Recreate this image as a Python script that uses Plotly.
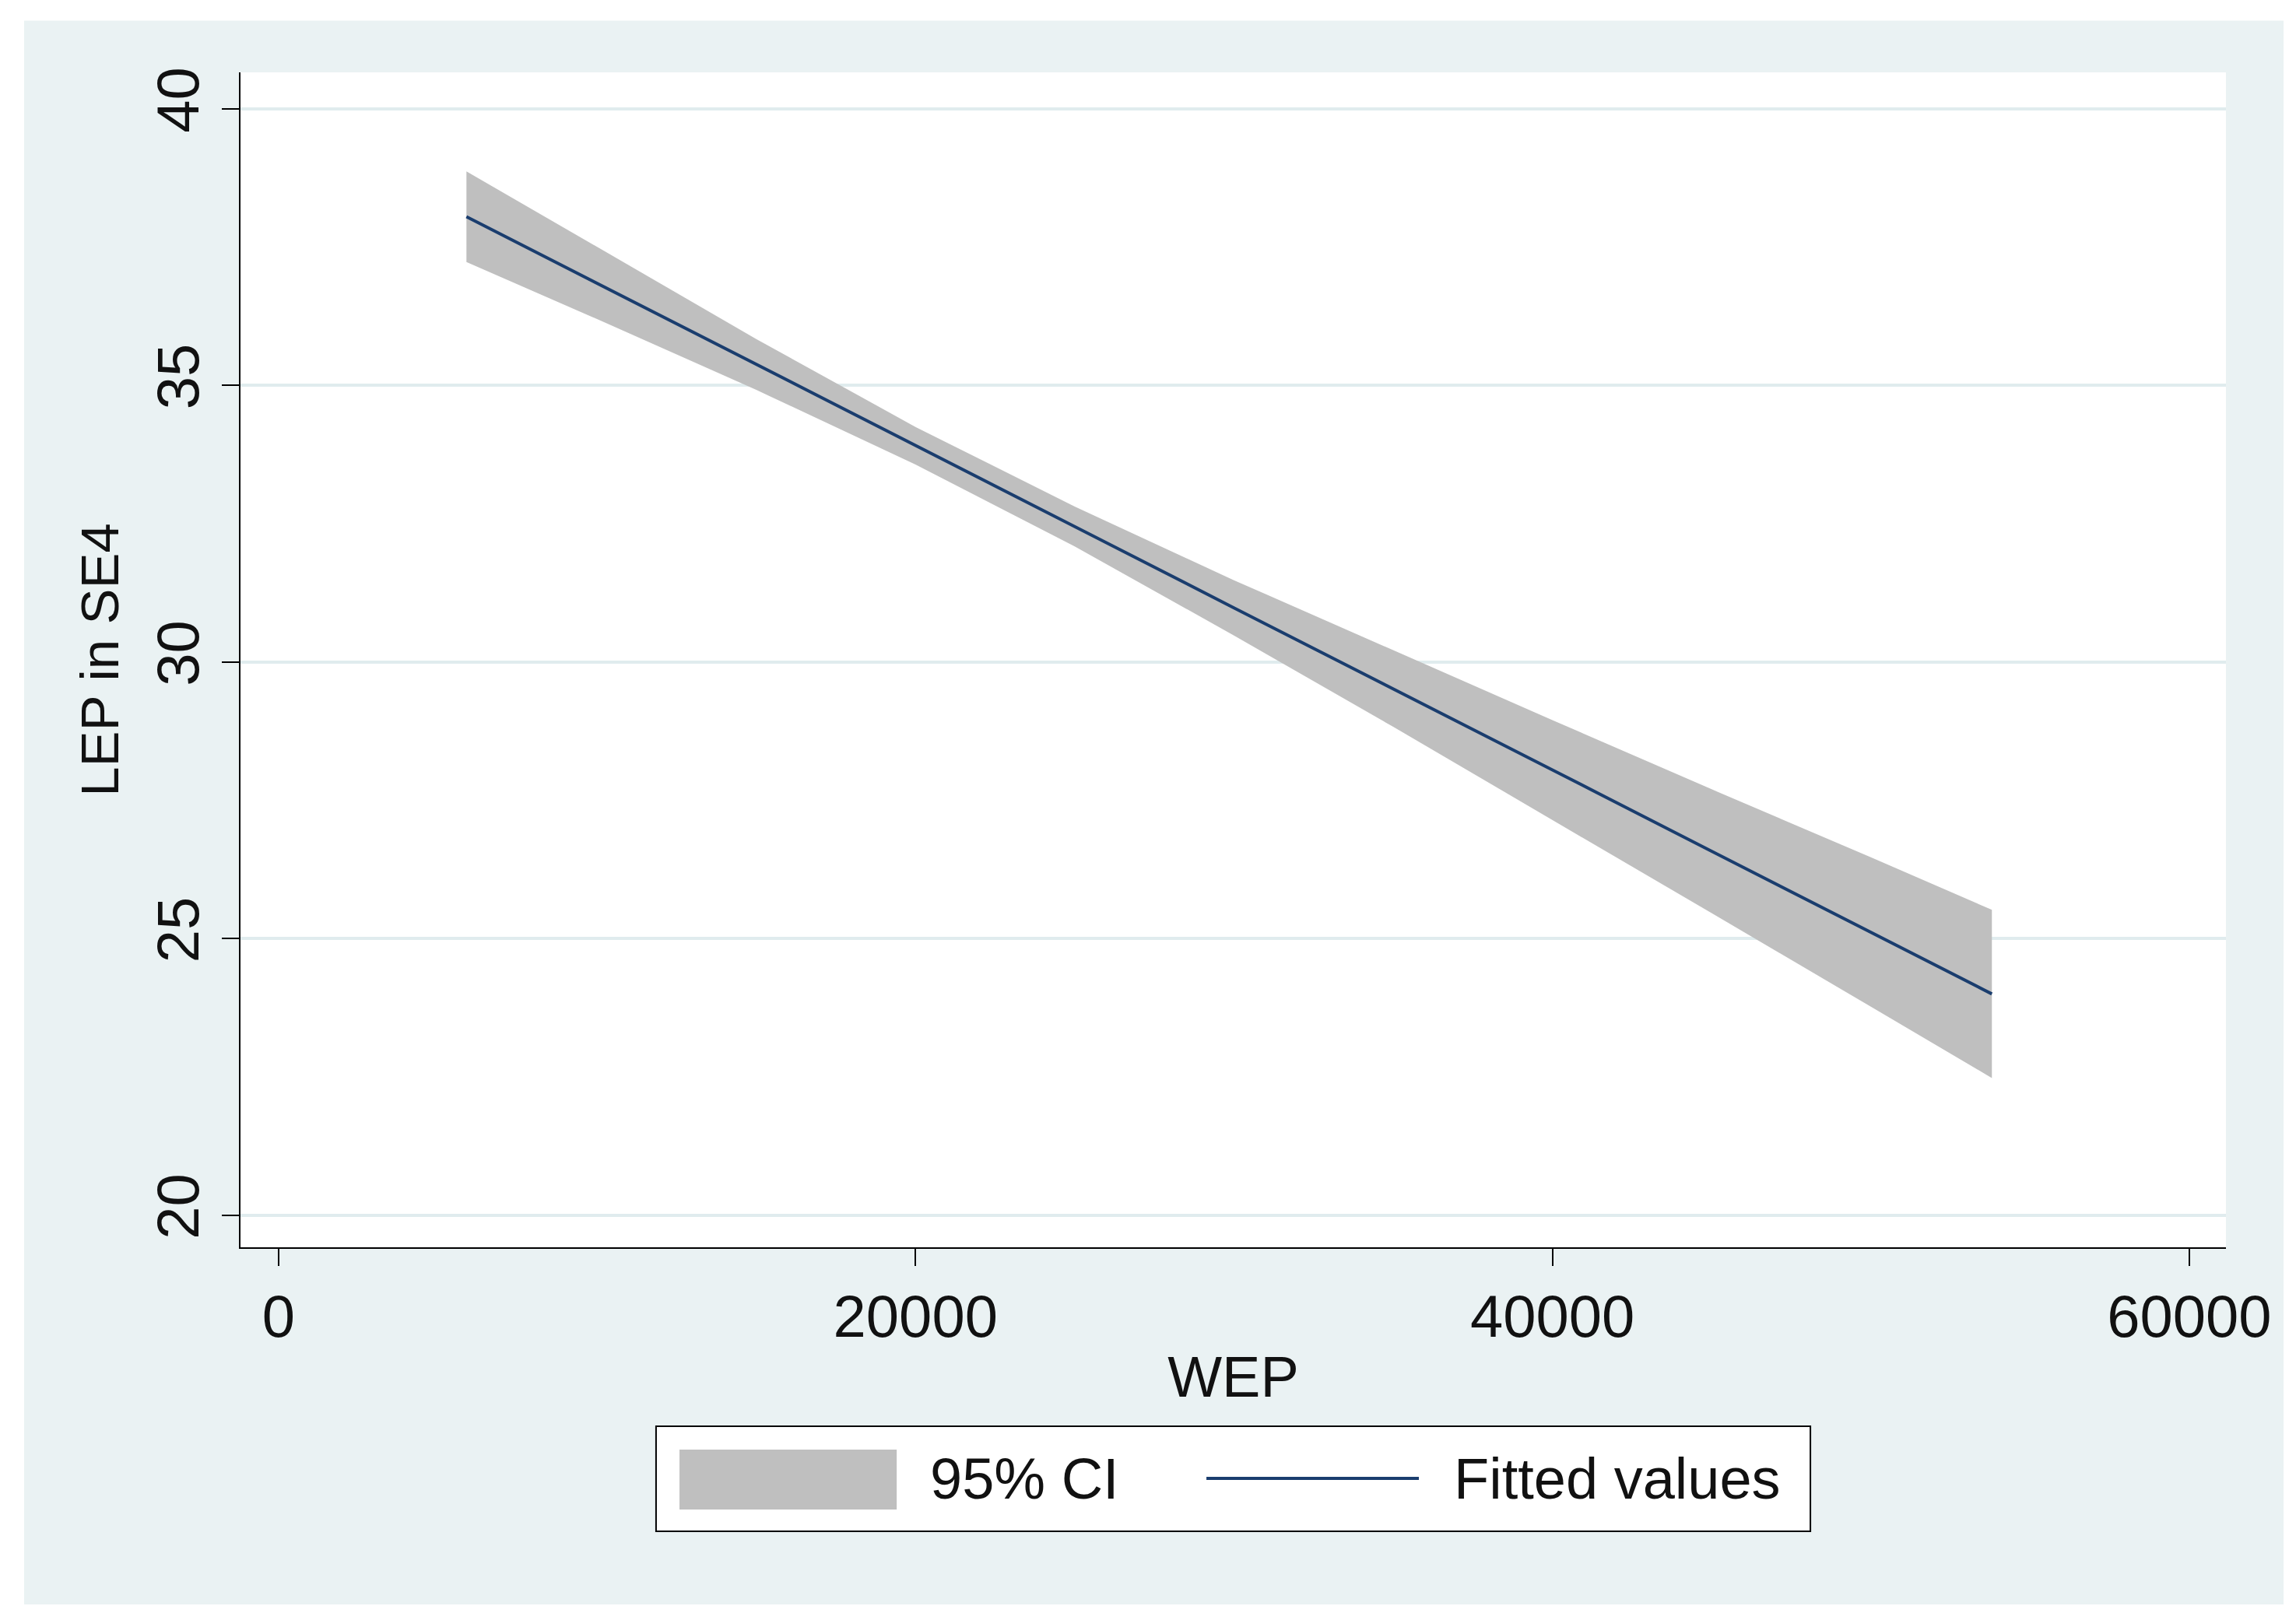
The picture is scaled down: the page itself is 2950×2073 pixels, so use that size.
import plotly.graph_objects as go

wep = [5900, 10000, 15000, 20000, 25000, 30000, 35000, 40000, 45000, 50000, 53800]
fitted = [38.05, 36.85, 35.38, 33.91, 32.45, 30.98, 29.52, 28.05, 26.58, 25.12, 24.00]
ci_lower = [37.23, 36.20, 34.92, 33.57, 32.09, 30.48, 28.83, 27.15, 25.46, 23.77, 22.48]
ci_upper = [38.87, 37.50, 35.84, 34.25, 32.81, 31.48, 30.21, 28.95, 27.70, 26.47, 25.52]

x_ticks = [0, 20000, 40000, 60000]
y_ticks = [20, 25, 30, 35, 40]
legend_labels = ["95% CI", "Fitted values"]

BAND = "#bfbfbf"
LINE = "#1a3d6e"

fig = go.Figure()
fig.add_trace(go.Scatter(x=wep, y=ci_lower, mode="lines", line=dict(width=0),
                         showlegend=False, hoverinfo="skip"))
fig.add_trace(go.Scatter(x=wep, y=ci_upper, mode="lines", line=dict(width=0),
                         fill="tonexty", fillcolor=BAND, name=legend_labels[0], showlegend=False))
fig.add_trace(go.Scatter(x=wep, y=fitted, mode="lines",
                         line=dict(color=LINE, width=4), name=legend_labels[1], showlegend=False))

FF = "Liberation Sans, Arial"
shapes = [
    # white outer border
    dict(type="rect", xref="paper", yref="paper", x0=-0.3, x1=-0.109, y0=-0.5, y1=1.3,
         fillcolor="white", line=dict(width=0)),
    dict(type="rect", xref="paper", yref="paper", x0=1.029, x1=1.2, y0=-0.5, y1=1.3,
         fillcolor="white", line=dict(width=0)),
    dict(type="rect", xref="paper", yref="paper", x0=-0.3, x1=1.2, y0=1.044, y1=1.3,
         fillcolor="white", line=dict(width=0)),
    dict(type="rect", xref="paper", yref="paper", x0=-0.3, x1=1.2, y0=-0.5, y1=-0.304,
         fillcolor="white", line=dict(width=0)),
    # legend box
    dict(type="rect", xref="paper", yref="paper", x0=0.2093, x1=0.7907, y0=-0.2417, y1=-0.1523,
         fillcolor="white", line=dict(color="black", width=2)),
    dict(type="rect", xref="paper", yref="paper", x0=0.2211, x1=0.3305, y0=-0.2232, y1=-0.1722,
         fillcolor=BAND, line=dict(width=0)),
    dict(type="line", xref="paper", yref="paper", x0=0.4865, x1=0.5935, y0=-0.1967, y1=-0.1967,
         line=dict(color=LINE, width=4)),
]
annotations = [
    dict(text=legend_labels[0], xref="paper", yref="paper", x=0.3465, y=-0.1967,
         xanchor="left", yanchor="middle", showarrow=False,
         font=dict(family=FF, size=74, color="#111")),
    dict(text=legend_labels[1], xref="paper", yref="paper", x=0.6103, y=-0.1967,
         xanchor="left", yanchor="middle", showarrow=False,
         font=dict(family=FF, size=74, color="#111")),
]

fig.update_layout(
    width=2950, height=2073,
    margin=dict(l=301, r=98, t=85, b=478),
    paper_bgcolor="#eaf2f3", plot_bgcolor="white",
    font=dict(family=FF, size=76, color="#111"),
    showlegend=False,
    shapes=shapes, annotations=annotations,
)
fig.update_xaxes(range=[-1195, 61150], tickvals=x_ticks, ticktext=[str(v) for v in x_ticks],
                 showgrid=False, zeroline=False, showline=True, linecolor="black", linewidth=2,
                 ticks="outside", ticklen=22, tickwidth=2, tickcolor="black",
                 tickfont=dict(size=76),
                 title=dict(text="WEP", font=dict(size=74), standoff=10))
fig.update_yaxes(range=[19.42, 40.66], tickvals=y_ticks, ticktext=[str(v) for v in y_ticks],
                 tickangle=-90, showgrid=True, gridcolor="#e0ecee", gridwidth=4,
                 zeroline=False, showline=True, linecolor="black", linewidth=2,
                 ticks="outside", ticklen=22, tickwidth=2, tickcolor="black",
                 tickfont=dict(size=76),
                 title=dict(text="LEP in SE4", font=dict(size=69), standoff=10))
fig.write_html("out.html")
